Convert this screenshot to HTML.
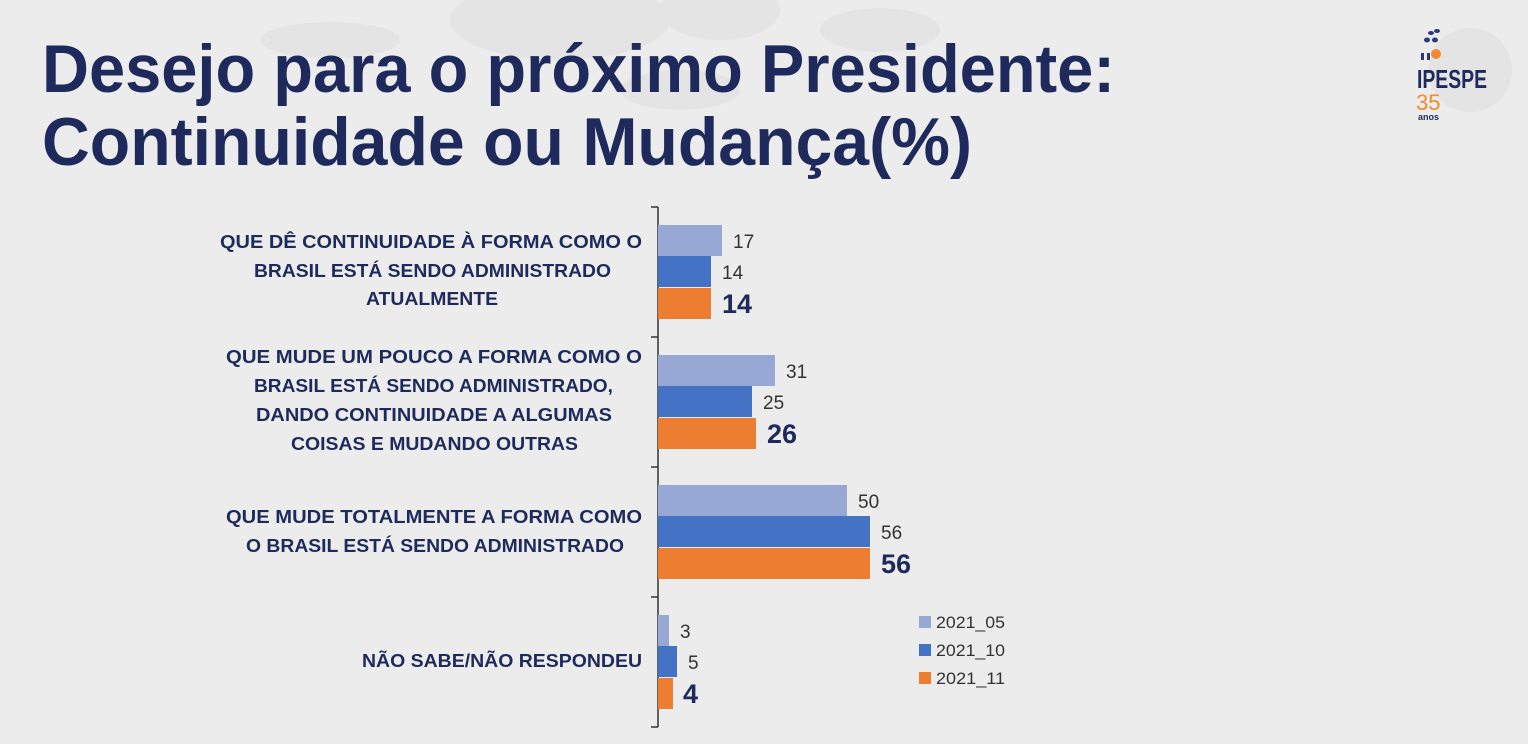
<!DOCTYPE html>
<html><head><meta charset="utf-8"><style>
html,body{margin:0;padding:0;background:#ececec;}
svg{display:block;font-family:"Liberation Sans",Arial,sans-serif;}
</style></head><body>
<svg width="1528" height="744" viewBox="0 0 1528 744">
<rect width="1528" height="744" fill="#ececec"/>
<g fill="#e4e4e4">
<ellipse cx="560" cy="20" rx="110" ry="40"/>
<ellipse cx="720" cy="10" rx="60" ry="30"/>
<ellipse cx="330" cy="40" rx="70" ry="18"/>
<ellipse cx="680" cy="90" rx="60" ry="20"/>
<ellipse cx="880" cy="30" rx="60" ry="22"/>
</g>
<g fill="#1f2a5c" font-weight="bold" font-size="68">
<text x="42" y="92" textLength="1073" lengthAdjust="spacingAndGlyphs">Desejo para o próximo Presidente:</text>
<text x="42" y="165" textLength="930" lengthAdjust="spacingAndGlyphs">Continuidade ou Mudança(%)</text>
</g>
<!-- logo -->
<circle cx="1470" cy="70" r="42" fill="#e4e4e4"/>
<g fill="#2a3a7a"><ellipse cx="1431" cy="33" rx="3" ry="2"/><ellipse cx="1437" cy="31" rx="3" ry="2"/><ellipse cx="1427" cy="40" rx="3" ry="2.5"/><ellipse cx="1435" cy="40" rx="3" ry="2.5"/><rect x="1421" y="53" width="3" height="7"/><rect x="1427" y="53" width="3" height="7"/></g>
<circle cx="1436" cy="54" r="5" fill="#f08a2c"/>
<text x="1417" y="88" font-size="26" font-weight="bold" fill="#1f2a5c" textLength="70" lengthAdjust="spacingAndGlyphs">IPESPE</text>
<text x="1416" y="110" font-size="22" fill="#f08a2c">35</text>
<text x="1418" y="120" font-size="9" font-weight="bold" fill="#1f2a5c">anos</text>
<!-- axis -->
<g stroke="#333" stroke-width="1.5">
<line x1="658" y1="207" x2="658" y2="727"/>
<line x1="651" y1="207" x2="658" y2="207"/><line x1="651" y1="337" x2="658" y2="337"/><line x1="651" y1="467" x2="658" y2="467"/><line x1="651" y1="597" x2="658" y2="597"/><line x1="651" y1="727" x2="658" y2="727"/>
</g>
<!-- bars -->
<g>
<rect x="658" y="225" width="64" height="31" fill="#97a8d4"/>
<rect x="658" y="256" width="53" height="31" fill="#4472c4"/>
<rect x="658" y="288" width="53" height="31" fill="#ed7d31"/>
<rect x="658" y="355" width="117" height="31" fill="#97a8d4"/>
<rect x="658" y="386" width="94" height="31" fill="#4472c4"/>
<rect x="658" y="418" width="98" height="31" fill="#ed7d31"/>
<rect x="658" y="485" width="189" height="31" fill="#97a8d4"/>
<rect x="658" y="516" width="212" height="31" fill="#4472c4"/>
<rect x="658" y="548" width="212" height="31" fill="#ed7d31"/>
<rect x="658" y="615" width="11" height="31" fill="#97a8d4"/>
<rect x="658" y="646" width="19" height="31" fill="#4472c4"/>
<rect x="658" y="678" width="15" height="31" fill="#ed7d31"/>
</g>
<g font-size="19" fill="#333">
<text x="733" y="248">17</text><text x="722" y="279">14</text>
<text x="786" y="378">31</text><text x="763" y="409">25</text>
<text x="858" y="508">50</text><text x="881" y="539">56</text>
<text x="680" y="638">3</text><text x="688" y="669">5</text>
</g>
<g font-size="27" font-weight="bold" fill="#1f2a5c">
<text x="722" y="313">14</text><text x="767" y="443">26</text><text x="881" y="573">56</text><text x="683" y="703">4</text>
</g>
<g font-size="18" font-weight="bold" fill="#1f2a5c">
<text x="220" y="248" textLength="422" lengthAdjust="spacingAndGlyphs">QUE DÊ CONTINUIDADE À FORMA COMO O</text>
<text x="254" y="277" textLength="357" lengthAdjust="spacingAndGlyphs">BRASIL ESTÁ SENDO ADMINISTRADO</text>
<text x="366" y="305" textLength="132" lengthAdjust="spacingAndGlyphs">ATUALMENTE</text>
<text x="226" y="363" textLength="416" lengthAdjust="spacingAndGlyphs">QUE MUDE UM POUCO A FORMA COMO O</text>
<text x="254" y="392" textLength="359" lengthAdjust="spacingAndGlyphs">BRASIL ESTÁ SENDO ADMINISTRADO,</text>
<text x="256" y="421" textLength="356" lengthAdjust="spacingAndGlyphs">DANDO CONTINUIDADE A ALGUMAS</text>
<text x="291" y="450" textLength="287" lengthAdjust="spacingAndGlyphs">COISAS E MUDANDO OUTRAS</text>
<text x="226" y="523" textLength="416" lengthAdjust="spacingAndGlyphs">QUE MUDE TOTALMENTE A FORMA COMO</text>
<text x="246" y="552" textLength="378" lengthAdjust="spacingAndGlyphs">O BRASIL ESTÁ SENDO ADMINISTRADO</text>
<text x="362" y="667" textLength="280" lengthAdjust="spacingAndGlyphs">NÃO SABE/NÃO RESPONDEU</text>
</g>
<!-- legend -->
<rect x="919" y="616" width="12" height="12" fill="#97a8d4"/>
<rect x="919" y="644" width="12" height="12" fill="#4472c4"/>
<rect x="919" y="672" width="12" height="12" fill="#ed7d31"/>
<g font-size="17" fill="#333">
<text x="936" y="628" textLength="69" lengthAdjust="spacingAndGlyphs">2021_05</text><text x="936" y="656" textLength="69" lengthAdjust="spacingAndGlyphs">2021_10</text><text x="936" y="684" textLength="69" lengthAdjust="spacingAndGlyphs">2021_11</text>
</g>
</svg>
</body></html>
